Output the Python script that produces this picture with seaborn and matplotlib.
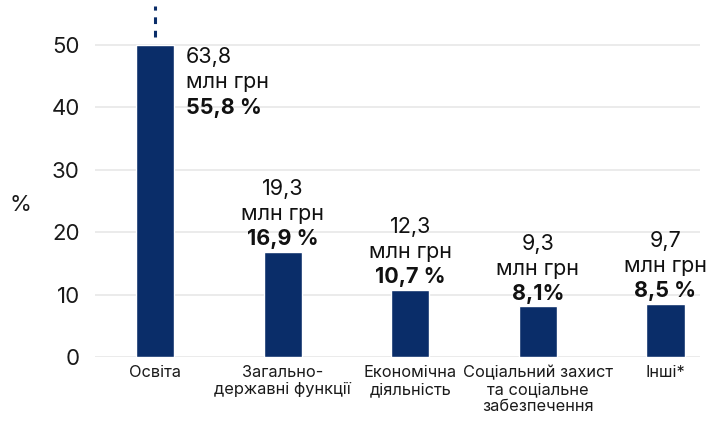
import numpy as np
import seaborn as sns
import matplotlib.pyplot as plt

categories = ['Освіта', 'Загально-\nдержавні функції', 'Економічна\nдіяльність',
              'Соціальний захист\nта соціальне\nзабезпечення', 'Інші*']
shares = [55.8, 16.9, 10.7, 8.1, 8.5]
amounts = ['63,8', '19,3', '12,3', '9,3', '9,7']
share_labels = ['55,8 %', '16,9 %', '10,7 %', '8,1%', '8,5 %']
y_ticks = [0, 10, 20, 30, 40, 50]

navy = '#0a2d69'
cap = 50  # the first bar is cut at the top of the scale

sns.set_theme(style='white')
plt.rcParams['font.family'] = ['Inter', 'DejaVu Sans']

fig = plt.figure(figsize=(7.15, 4.25), dpi=100)
ax = fig.add_axes([0.133, 0.16, 0.846, 0.8296])

heights = np.minimum(shares, cap)
sns.barplot(x=list(range(len(categories))), y=heights, color=navy, width=0.3,
            saturation=1, ax=ax, zorder=3)

# dashed mark that the first bar goes beyond the scale
ax.vlines(0, cap + 1.3, cap + 6.2, color=navy, lw=2.2, linestyles=(0, (2.2, 2.2)), zorder=3)

ax.set_xlim(-0.47, 4.27)
ax.set_ylim(0, 56.5)
ax.set_yticks(y_ticks)
ax.set_xticks(range(len(categories)))
ax.set_xticklabels(categories, fontsize=11.8, color='#1a1a1a', linespacing=1.15)
ax.tick_params(axis='y', labelsize=16, labelcolor='#1a1a1a', pad=11, length=0)
ax.tick_params(axis='x', pad=6, length=0)
ax.grid(axis='y', color='#e8e8e8', lw=1.2, zorder=0)
ax.set_xlabel('')
ax.set_ylabel('')
for s in ax.spines.values():
    s.set_visible(False)

fig.text(20 / 715, 1 - 205 / 425, '%', fontsize=16, color='#1a1a1a', ha='center', va='center')

# labels: first bar to the right, others above the bars
for i, (amt, pct) in enumerate(zip(amounts, share_labels)):
    if shares[i] > cap:
        kw = dict(xy=(i, cap), xycoords='data', textcoords='offset points',
                  ha='left', va='baseline', fontsize=15.5, color='#111111')
        ax.annotate(amt, xytext=(22, -13), **kw)
        ax.annotate('млн грн', xytext=(22, -31), **kw)
        ax.annotate(pct, xytext=(22, -50), fontweight='bold', **kw)
    else:
        kw = dict(xy=(i, heights[i]), xycoords='data', textcoords='offset points',
                  ha='center', va='baseline', fontsize=15.5, color='#111111')
        ax.annotate(pct, xytext=(0, 5), fontweight='bold', **kw)
        ax.annotate('млн грн', xytext=(0, 23), **kw)
        ax.annotate(amt, xytext=(0, 41), **kw)

plt.savefig('out.png', dpi=100)
